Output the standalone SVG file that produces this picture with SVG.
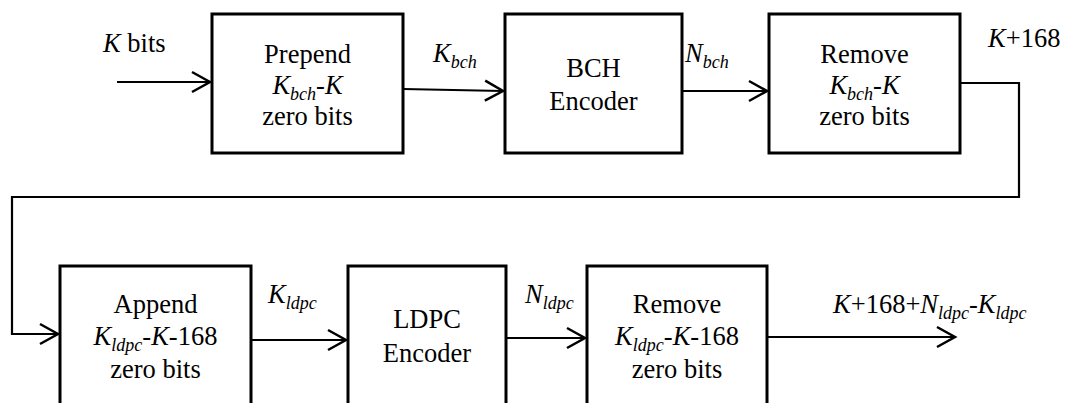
<svg xmlns="http://www.w3.org/2000/svg" width="1066" height="403" viewBox="0 0 1066 403" font-family="'Liberation Serif', 'Times New Roman', Times, 'DejaVu Serif', serif">
<defs>
<style>
.box{fill:#fff;stroke:#000;stroke-width:3}
.ln{fill:none;stroke:#000;stroke-width:2.2}
text{font-family:'Liberation Serif','Times New Roman',Times,'DejaVu Serif',serif;font-size:26.5px;fill:#000}
.c{text-anchor:middle}
.i{font-style:italic}
.s{font-size:18px;font-style:italic}
</style>
<marker id="arr" markerWidth="24" markerHeight="26" refX="20" refY="12" orient="auto" markerUnits="userSpaceOnUse">
<path d="M2,2 L20,12 L2,22" fill="none" stroke="#000" stroke-width="2.5"/>
</marker>
</defs>
<g id="connectors">
<line class="ln" x1="117" y1="82" x2="210" y2="82" marker-end="url(#arr)"/>
<line class="ln" x1="403" y1="89" x2="503" y2="91" marker-end="url(#arr)"/>
<line class="ln" x1="682" y1="91" x2="767" y2="91" marker-end="url(#arr)"/>
<polyline class="ln" points="960,83 1019,83 1019,197 12,197 12,334 58,334" marker-end="url(#arr)"/>
<line class="ln" x1="251" y1="340" x2="346" y2="340" marker-end="url(#arr)"/>
<line class="ln" x1="506" y1="338" x2="585" y2="338" marker-end="url(#arr)"/>
<line class="ln" x1="767" y1="337" x2="955" y2="337" marker-end="url(#arr)"/>
</g>
<g id="labels">
<text x="103" y="52"><tspan class="i">K</tspan> bits</text>
<text x="433" y="62"><tspan class="i">K</tspan><tspan class="s" dy="6">bch</tspan></text>
<text x="685" y="62"><tspan class="i">N</tspan><tspan class="s" dy="6">bch</tspan></text>
<text x="988" y="47"><tspan class="i">K</tspan>+168</text>
<text x="268" y="303"><tspan class="i">K</tspan><tspan class="s" dy="6">ldpc</tspan></text>
<text x="525" y="303"><tspan class="i">N</tspan><tspan class="s" dy="6">ldpc</tspan></text>
<text x="833" y="313"><tspan class="i">K</tspan>+168+<tspan class="i">N</tspan><tspan class="s" dy="6">ldpc</tspan><tspan dy="-6">-</tspan><tspan class="i">K</tspan><tspan class="s" dy="6">ldpc</tspan></text>
</g>
<g id="prepend">
<rect class="box" x="212" y="14" width="191" height="139"/>
<text class="c" x="307.5" y="63">Prepend</text>
<text class="c" x="307.5" y="94"><tspan class="i">K</tspan><tspan class="s" dy="6">bch</tspan><tspan dy="-6">-</tspan><tspan class="i">K</tspan></text>
<text class="c" x="307.5" y="125">zero bits</text>
</g>
<g id="bch">
<rect class="box" x="505" y="14" width="177" height="139"/>
<text class="c" x="593.5" y="77">BCH</text>
<text class="c" x="593.5" y="110">Encoder</text>
</g>
<g id="remove1">
<rect class="box" x="769" y="14" width="191" height="139"/>
<text class="c" x="864.5" y="63">Remove</text>
<text class="c" x="864.5" y="94"><tspan class="i">K</tspan><tspan class="s" dy="6">bch</tspan><tspan dy="-6">-</tspan><tspan class="i">K</tspan></text>
<text class="c" x="864.5" y="125">zero bits</text>
</g>
<g id="append">
<rect class="box" x="60" y="266" width="191" height="150"/>
<text class="c" x="155.5" y="313">Append</text>
<text class="c" x="155.5" y="345"><tspan class="i">K</tspan><tspan class="s" dy="6">ldpc</tspan><tspan dy="-6">-</tspan><tspan class="i">K</tspan>-168</text>
<text class="c" x="155.5" y="378">zero bits</text>
</g>
<g id="ldpc">
<rect class="box" x="348" y="266" width="158" height="150"/>
<text class="c" x="427" y="328">LDPC</text>
<text class="c" x="427" y="362">Encoder</text>
</g>
<g id="remove2">
<rect class="box" x="587" y="266" width="180" height="150"/>
<text class="c" x="677" y="313">Remove</text>
<text class="c" x="677" y="345"><tspan class="i">K</tspan><tspan class="s" dy="6">ldpc</tspan><tspan dy="-6">-</tspan><tspan class="i">K</tspan>-168</text>
<text class="c" x="677" y="378">zero bits</text>
</g>
</svg>
